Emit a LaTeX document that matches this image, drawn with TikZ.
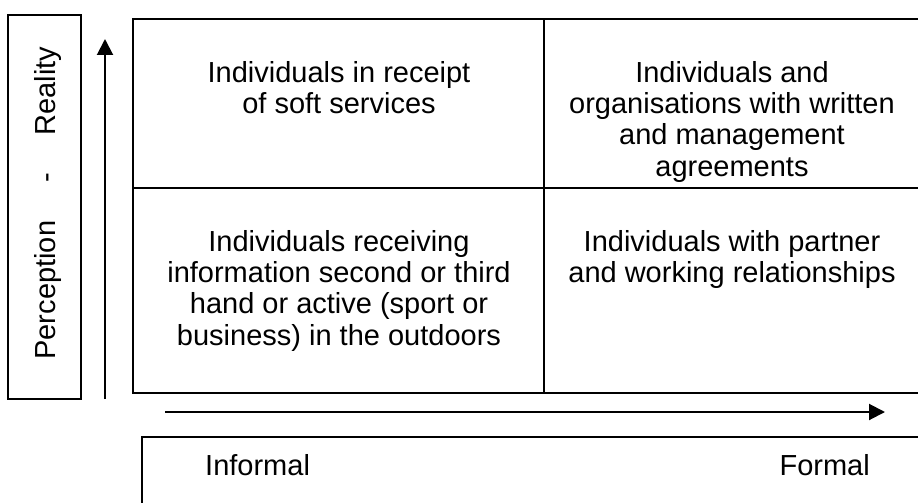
\documentclass[tikz,border=0pt]{standalone}
\usepackage{fontspec}
\setmainfont{Liberation Sans}
\usetikzlibrary{arrows.meta}

\begin{document}
\begin{tikzpicture}[x=1pt,y=-1pt,
		txt/.style={inner sep=0pt, font=\fontsize{29}{31.3}\selectfont},
		cell/.style={txt, anchor=north, align=center},
		axis/.style={line width=2pt, -{Triangle[length=16pt,width=16pt]}}]
	\useasboundingbox (0,0) rectangle (918,503);
	\draw[line width=2pt] (8,15) rectangle (81,399);
	\node[txt, rotate=90, anchor=base] (pr) at (55,203) {Perception\hspace{38pt}-\hspace{38pt}Reality};
	\coordinate (v0) at (105,399);
	\coordinate (v1) at (105,39);
	\draw[axis] (v0) -- (v1);
	\draw[line width=2.6pt] (133,19) rectangle (930,393);
	\draw[line width=2.6pt] (544,19) -- (544,393);
	\draw[line width=2.6pt] (133,188) -- (930,188);
	\node[cell] (c1) at (339,61) {Individuals in receipt\\of soft services};
	\node[cell] (c2) at (732,61) {Individuals and\\organisations with written\\and management\\agreements};
	\node[cell] (c3) at (339,230) {Individuals receiving\\information second or third\\hand or active (sport or\\business) in the outdoors};
	\node[cell] (c4) at (732,230) {Individuals with partner\\and working relationships};
	\coordinate (h0) at (165,412);
	\coordinate (h1) at (885,412);
	\draw[axis] (h0) -- (h1);
	\draw[line width=2.4pt] (142,437) rectangle (930,520);
	\node[txt, anchor=base west] (inf) at (205,475) {Informal};
	\node[txt, anchor=base east] (frm) at (870,475) {Formal};
\end{tikzpicture}
\end{document}
